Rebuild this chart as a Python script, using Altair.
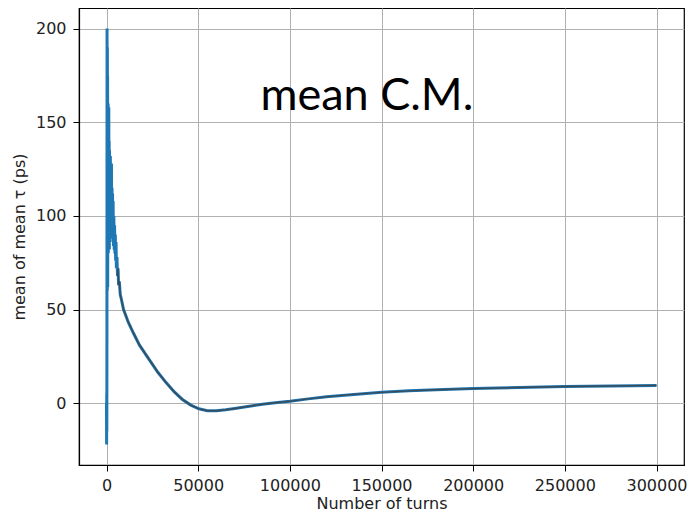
import altair as alt
import pandas as pd

# Data
turns = [0, 60, 120, 180, 240, 300, 360, 420, 480, 540, 600, 660, 720, 800, 880, 960,
         1050, 1150, 1250, 1350, 1450, 1550, 1650, 1750, 1850, 1950, 2100, 2250, 2400,
         2550, 2700, 2850, 3000, 3150, 3300, 3450, 3600, 3800, 4000, 4200, 4400, 4600,
         4800, 5000, 5200, 5400, 5700, 6000, 6300, 6600, 7000, 7500, 8000, 9300, 12000,
         14600, 18000, 23500, 28000, 32500, 37000, 41400, 46000, 50400, 55000, 60000,
         65000, 70000, 77000, 85000, 92000, 100000, 110000, 120000, 130000, 140000,
         150000, 165000, 180000, 200000, 225000, 250000, 275000, 300000]
tau = [0, -22, 5, -15, 40, 200, 120, 60, 190, 80, 175, 62, 150, 85, 160, 80,
       145, 82, 158, 85, 140, 82, 135, 88, 130, 86, 132, 88, 120,
       90, 128, 92, 115, 88, 112, 90, 108, 84, 100, 82, 95, 80,
       90, 76, 86, 72, 78, 68, 72, 63, 65, 58, 56, 50, 43,
       37.6, 31, 23, 16.5, 11, 6, 2, -1, -3, -4, -4,
       -3.5, -2.8, -1.8, -0.6, 0.2, 1, 2.3, 3.4, 4.3, 5.1,
       5.8, 6.6, 7.2, 7.8, 8.4, 8.9, 9.2, 9.5]

x_ticks = [0, 50000, 100000, 150000, 200000, 250000, 300000]
y_ticks = [0, 50, 100, 150, 200]

df = pd.DataFrame({"turns": turns, "tau": tau})

x_enc = alt.X("turns:Q",
              scale=alt.Scale(domain=[-15000, 315000], nice=False, zero=False),
              axis=alt.Axis(values=x_ticks, format="d", title="Number of turns"))
y_enc = alt.Y("tau:Q",
              scale=alt.Scale(domain=[-33, 211], nice=False, zero=False),
              axis=alt.Axis(values=y_ticks, format="d", title="mean of mean τ (ps)"))

blue = alt.Chart(df).mark_line(color="#1f77b4", strokeWidth=3, clip=True).encode(
    x=x_enc, y=y_enc, order="turns:Q")
dark = alt.Chart(df).transform_filter(alt.datum.turns >= 6000).mark_line(
    color="#3a4b58", strokeWidth=1.4, clip=True).encode(x=x_enc, y=y_enc, order="turns:Q")

label_df = pd.DataFrame({"turns": [142000], "tau": [164], "txt": ["mean C.M."]})
label = alt.Chart(label_df).mark_text(
    font="Lato", fontSize=45, color="black", align="center", baseline="middle"
).encode(x="turns:Q", y="tau:Q", text="txt:N")

chart = alt.layer(blue, dark, label).properties(
    width=605, height=457,
    autosize=alt.AutoSizeParams(type="none"),
    padding={"left": 71, "top": 0, "right": 5, "bottom": 47},
).configure_view(stroke="black", strokeWidth=1.2).configure_axis(
    grid=True, gridColor="#b0b0b0", gridWidth=1,
    domainColor="black", domainWidth=1.2,
    tickColor="black", tickSize=6, tickWidth=1,
    labelFont="DejaVu Sans", labelFontSize=16, labelColor="#222222",
    titleFont="DejaVu Sans", titleFontSize=16, titleFontWeight="normal", titleColor="#222222",
).configure_axisX(labelPadding=6, titlePadding=2).configure_axisY(labelPadding=7, titlePadding=8)

chart.save("out.html", embed_options={"renderer": "svg", "actions": False})
